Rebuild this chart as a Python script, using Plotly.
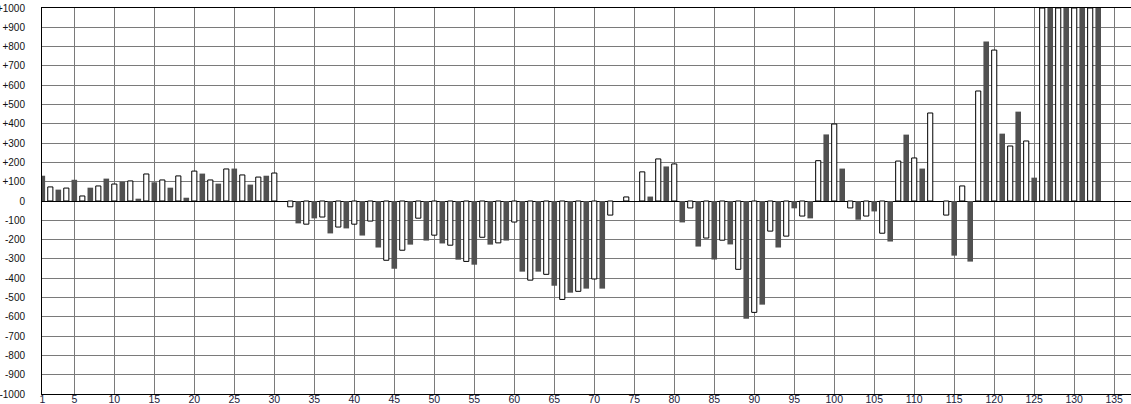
import plotly.graph_objects as go

# Dark bars at odd positions
dark_x = list(range(1, 134, 2))
dark_values = [131, 59, 110, 69, 116, 100, 12, 97, 69, 17,
               142, 90, 168, 85, 131, 0, -116, -90, -168, -142,
               -179, -241, -351, -226, -205, -220, -304, -330, -226, -205,
               -366, -366, -439, -475, -454, -454, 0, 0, 23, 179,
               -111, -236, -303, -225, -610, -537, -241, -38, -90, 345,
               168, -97, -54, -210, 344, 168, 0, -283, -314, 826,
               349, 463, 121, 1000, 1000, 1000, 1000]

# White (outlined) bars at even positions
white_x = list(range(2, 133, 2))
white_values = [73, 67, 26, 78, 88, 104, 140, 109, 130, 155,
                109, 166, 135, 124, 145, -30, -120, -83, -135, -120,
                -104, -307, -255, -89, -177, -229, -313, -188, -217, -109,
                -410, -380, -510, -468, -404, -73, 21, 151, 218, 192,
                -36, -192, -203, -354, -577, -156, -182, -78, 209, 399,
                -36, -78, -167, 207, 223, 456, -73, 78, 570, 782,
                285, 311, 1000, 1000, 1000, 1000]

x_tickvals = [1] + list(range(5, 136, 5))
x_ticktext = [str(v) for v in x_tickvals]
y_tickvals = list(range(-1000, 1001, 100))
y_ticktext = [("+" + str(v)) if v > 0 else str(v) for v in y_tickvals]

fig = go.Figure()
fig.add_trace(go.Bar(x=dark_x, y=dark_values, width=0.7,
                     marker=dict(color="#505050", line=dict(width=0))))
fig.add_trace(go.Bar(x=white_x, y=white_values, width=0.64,
                     marker=dict(color="white", line=dict(color="black", width=1))))

fig.update_layout(
    width=1131, height=404,
    margin=dict(l=42, r=0, t=8, b=10, autoexpand=False),
    paper_bgcolor="white", plot_bgcolor="white",
    barmode="overlay", showlegend=False,
    font=dict(family="Liberation Sans, Arial, sans-serif", size=10, color="#111"),
)
fig.update_xaxes(
    range=[0.96, 137.1], tickvals=x_tickvals, ticktext=x_ticktext,
    showgrid=True, gridcolor="#7a7a7a", gridwidth=1,
    showline=True, linecolor="black", linewidth=1, mirror=True,
    zeroline=False, ticks="", ticklabelstandoff=-5, automargin=False,
    tickfont=dict(size=10.5, color="#1a1a3a"),
)
fig.update_yaxes(
    range=[-1000, 1000], tickvals=y_tickvals, ticktext=y_ticktext,
    showgrid=True, gridcolor="#7a7a7a", gridwidth=1,
    showline=True, linecolor="black", linewidth=1,
    zeroline=True, zerolinecolor="black", zerolinewidth=1,
    ticks="", ticklabelstandoff=14, automargin=False,
    tickfont=dict(size=10, color="#111"),
)

fig.write_html("out.html", config={"displayModeBar": False},
               post_script="document.body.style.margin='0';document.body.style.overflow='hidden';")
